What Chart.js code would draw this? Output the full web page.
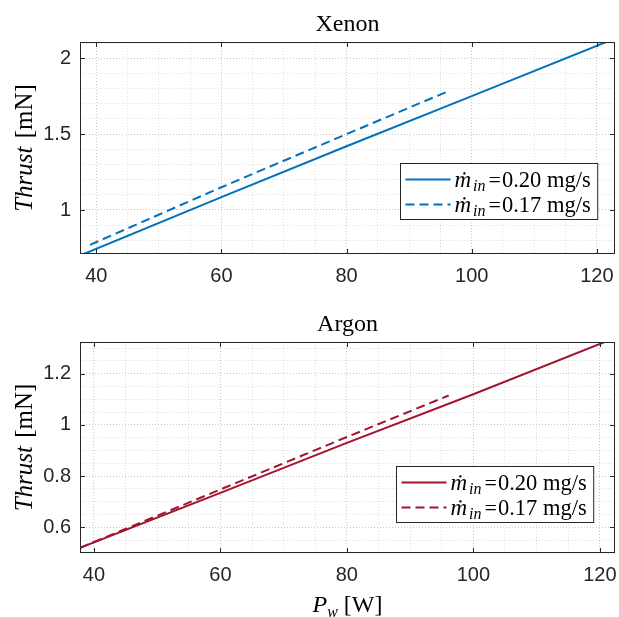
<!DOCTYPE html>
<html>
<head>
<meta charset="utf-8">
<script src="https://cdn.jsdelivr.net/npm/chart.js@4.4.1/dist/chart.umd.min.js"></script>
<style>
  body { margin: 0; background: #fff; }
  canvas { display: block; }
</style>
</head>
<body>
<canvas id="xenonChart" width="619" height="300"></canvas>
<canvas id="argonChart" width="619" height="317"></canvas>
<script>
// values (power in W, thrust in mN)
const flowLabels = ['0.20', '0.17'];

const xenonPow20 = [37.4, 60, 80, 100, 122.9];
const xenonThr20 = [0.70, 1.085, 1.42, 1.75, 2.13];
const xenonPow17 = [39, 60, 80, 96.5];
const xenonThr17 = [0.77, 1.15, 1.50, 1.787];

const argonPow20 = [37.8, 60, 80, 100, 122.4];
const argonThr20 = [0.52, 0.735, 0.93, 1.12, 1.34];
const argonPow17 = [37.8, 60, 80, 96.1];
const argonThr17 = [0.52, 0.748, 0.953, 1.115];

const xTicksMajor = [40, 60, 80, 100, 120];
const xenonYTicks = [1, 1.5, 2];
const argonYTicks = [0.6, 0.8, 1, 1.2];

const BLUE = '#0072BD';
const RED = '#A2142F';
const AX = '#262626';

function toXY(xs, ys) {
  return xs.map((v, i) => ({ x: v, y: ys[i] }));
}

function isMajor(v, list) {
  return list.some(t => Math.abs(t - v) < 1e-6);
}

// draw a run of text pieces with different fonts / offsets
function drawParts(ctx, x, y, parts) {
  parts.forEach(p => {
    ctx.font = p.font;
    ctx.fillText(p.t, x, y + (p.dy || 0));
    x += ctx.measureText(p.t).width + (p.gap || 0);
  });
  return x;
}
function partsWidth(ctx, parts) {
  let w = 0;
  parts.forEach(p => { ctx.font = p.font; w += ctx.measureText(p.t).width + (p.gap || 0); });
  return w;
}

const frame = {
  id: 'frame',
  afterDraw(chart, args, o) {
    const { ctx, chartArea: a } = chart;
    const x = chart.scales.x, y = chart.scales.y;
    ctx.save();

    // box
    ctx.strokeStyle = AX;
    ctx.lineWidth = 1;
    ctx.strokeRect(Math.round(a.left) + 0.5, Math.round(a.top) + 0.5,
      Math.round(a.width) - 1, Math.round(a.height) - 1);

    // inward major ticks on all sides
    ctx.beginPath();
    x.ticks.forEach(t => {
      if (t.label === '') return;
      const px = Math.round(x.getPixelForValue(t.value)) + 0.5;
      ctx.moveTo(px, a.bottom); ctx.lineTo(px, a.bottom - 5);
      ctx.moveTo(px, a.top); ctx.lineTo(px, a.top + 5);
    });
    y.ticks.forEach(t => {
      if (t.label === '') return;
      const py = Math.round(y.getPixelForValue(t.value)) + 0.5;
      ctx.moveTo(a.left, py); ctx.lineTo(a.left + 5, py);
      ctx.moveTo(a.right, py); ctx.lineTo(a.right - 5, py);
    });
    ctx.stroke();

    ctx.fillStyle = '#000';
    ctx.textBaseline = 'alphabetic';
    const cx = (a.left + a.right) / 2;

    // title
    ctx.textAlign = 'center';
    ctx.font = '24px "Liberation Serif"';
    ctx.fillText(o.title, cx, 31);

    // y label
    ctx.textAlign = 'left';
    const yParts = [
      { t: 'Thrust', font: 'italic 25px "Liberation Serif"', gap: 2 },
      { t: ' [mN]', font: '25px "Liberation Serif"' }
    ];
    ctx.save();
    ctx.translate(32, (a.top + a.bottom) / 2);
    ctx.rotate(-Math.PI / 2);
    drawParts(ctx, -partsWidth(ctx, yParts) / 2, 0, yParts);
    ctx.restore();

    // x label
    if (o.xLabel) {
      const xParts = [
        { t: 'P', font: 'italic 24px "Liberation Serif"' },
        { t: 'w', font: 'italic 16px "Liberation Serif"', dy: 5 },
        { t: ' [W]', font: '24px "Liberation Serif"' }
      ];
      drawParts(ctx, cx - partsWidth(ctx, xParts) / 2, a.bottom + 59, xParts);
    }

    // legend
    const rows = chart.data.datasets.map((ds, i) => [
      { t: '\u1E41', font: 'italic 23px "Liberation Serif"', gap: 2 },
      { t: 'in', font: 'italic 16px "Liberation Serif"', dy: 4, gap: 3 },
      { t: '=', font: '22px "Liberation Serif"', gap: 1 },
      { t: flowLabels[i] + ' mg/s', font: '22.5px "Liberation Serif"' }
    ]);
    const tw = Math.max(...rows.map(r => partsWidth(ctx, r)));
    const bw = 5 + 45 + 4 + tw + 7;
    const bh = 56;
    const bx = Math.round(a.right - o.legRight - bw) + 0.5;
    const by = Math.round(a.bottom - o.legBottom - bh) + 0.5;
    ctx.fillStyle = '#fff';
    ctx.fillRect(bx, by, bw, bh);
    ctx.strokeStyle = AX;
    ctx.lineWidth = 1;
    ctx.strokeRect(bx, by, bw, bh);
    chart.data.datasets.forEach((ds, i) => {
      const ry = by + 16 + i * 25;
      ctx.strokeStyle = ds.borderColor;
      ctx.lineWidth = 2;
      ctx.setLineDash(ds.borderDash || []);
      ctx.beginPath();
      ctx.moveTo(bx + 5, ry); ctx.lineTo(bx + 50, ry);
      ctx.stroke();
      ctx.setLineDash([]);
      ctx.fillStyle = '#000';
      drawParts(ctx, bx + 54, ry + 7, rows[i]);
    });

    ctx.restore();
  }
};

function makeChart(id, cfg) {
  return new Chart(document.getElementById(id), {
    type: 'line',
    data: {
      datasets: [
        {
          label: 'mdot 0.20',
          data: toXY(cfg.p20, cfg.t20),
          borderColor: cfg.color,
          borderWidth: 2,
          pointRadius: 0,
          tension: 0,
        },
        {
          label: 'mdot 0.17',
          data: toXY(cfg.p17, cfg.t17),
          borderColor: cfg.color,
          borderWidth: 2,
          borderDash: [9, 5],
          pointRadius: 0,
          tension: 0,
        },
      ],
    },
    options: {
      responsive: false,
      animation: false,
      devicePixelRatio: 1,
      layout: { padding: { top: 42, right: 4, left: 0, bottom: 0 } },
      plugins: {
        legend: { display: false },
        tooltip: { enabled: false },
        frame: cfg.frame,
      },
      scales: {
        x: {
          type: 'linear',
          min: cfg.xMin,
          max: cfg.xMax,
          afterFit: s => { s.height = cfg.xHeight; s.paddingLeft = 0; s.paddingRight = 0; },
          border: { display: false, dash: [1, 2] },
          grid: {
            drawTicks: false,
            color: c => isMajor(c.tick.value, xTicksMajor) ? 'rgba(0,0,0,0.22)' : 'rgba(0,0,0,0.13)',
          },
          ticks: {
            stepSize: 5,
            includeBounds: false,
            autoSkip: false,
            maxRotation: 0,
            padding: 10,
            color: AX,
            font: { family: 'Liberation Sans', size: 20 },
            callback: v => isMajor(v, xTicksMajor) ? String(v) : '',
          },
        },
        y: {
          min: cfg.yMin,
          max: cfg.yMax,
          afterFit: s => { s.width = 80; s.paddingTop = 0; s.paddingBottom = 0; },
          border: { display: false, dash: [1, 2] },
          grid: {
            drawTicks: false,
            color: c => isMajor(c.tick.value, cfg.yTicks) ? 'rgba(0,0,0,0.22)' : 'rgba(0,0,0,0.13)',
          },
          ticks: {
            stepSize: cfg.yStep,
            includeBounds: false,
            autoSkip: false,
            padding: 9,
            color: AX,
            font: { family: 'Liberation Sans', size: 20 },
            callback: v => isMajor(v, cfg.yTicks) ? String(+v.toFixed(2)) : '',
          },
        },
      },
    },
    plugins: [frame],
  });
}

makeChart('xenonChart', {
  p20: xenonPow20, t20: xenonThr20, p17: xenonPow17, t17: xenonThr17,
  color: BLUE,
  xMin: 37.4, xMax: 122.9, yMin: 0.71, yMax: 2.107,
  yStep: 0.1, yTicks: xenonYTicks, xHeight: 46,
  frame: { title: 'Xenon', legRight: 18, legBottom: 35 },
});

makeChart('argonChart', {
  p20: argonPow20, t20: argonThr20, p17: argonPow17, t17: argonThr17,
  color: RED,
  xMin: 37.8, xMax: 122.4, yMin: 0.50, yMax: 1.324,
  yStep: 0.05, yTicks: argonYTicks, xHeight: 64,
  frame: { title: 'Argon', legRight: 22, legBottom: 31, xLabel: true },
});
</script>
</body>
</html>
